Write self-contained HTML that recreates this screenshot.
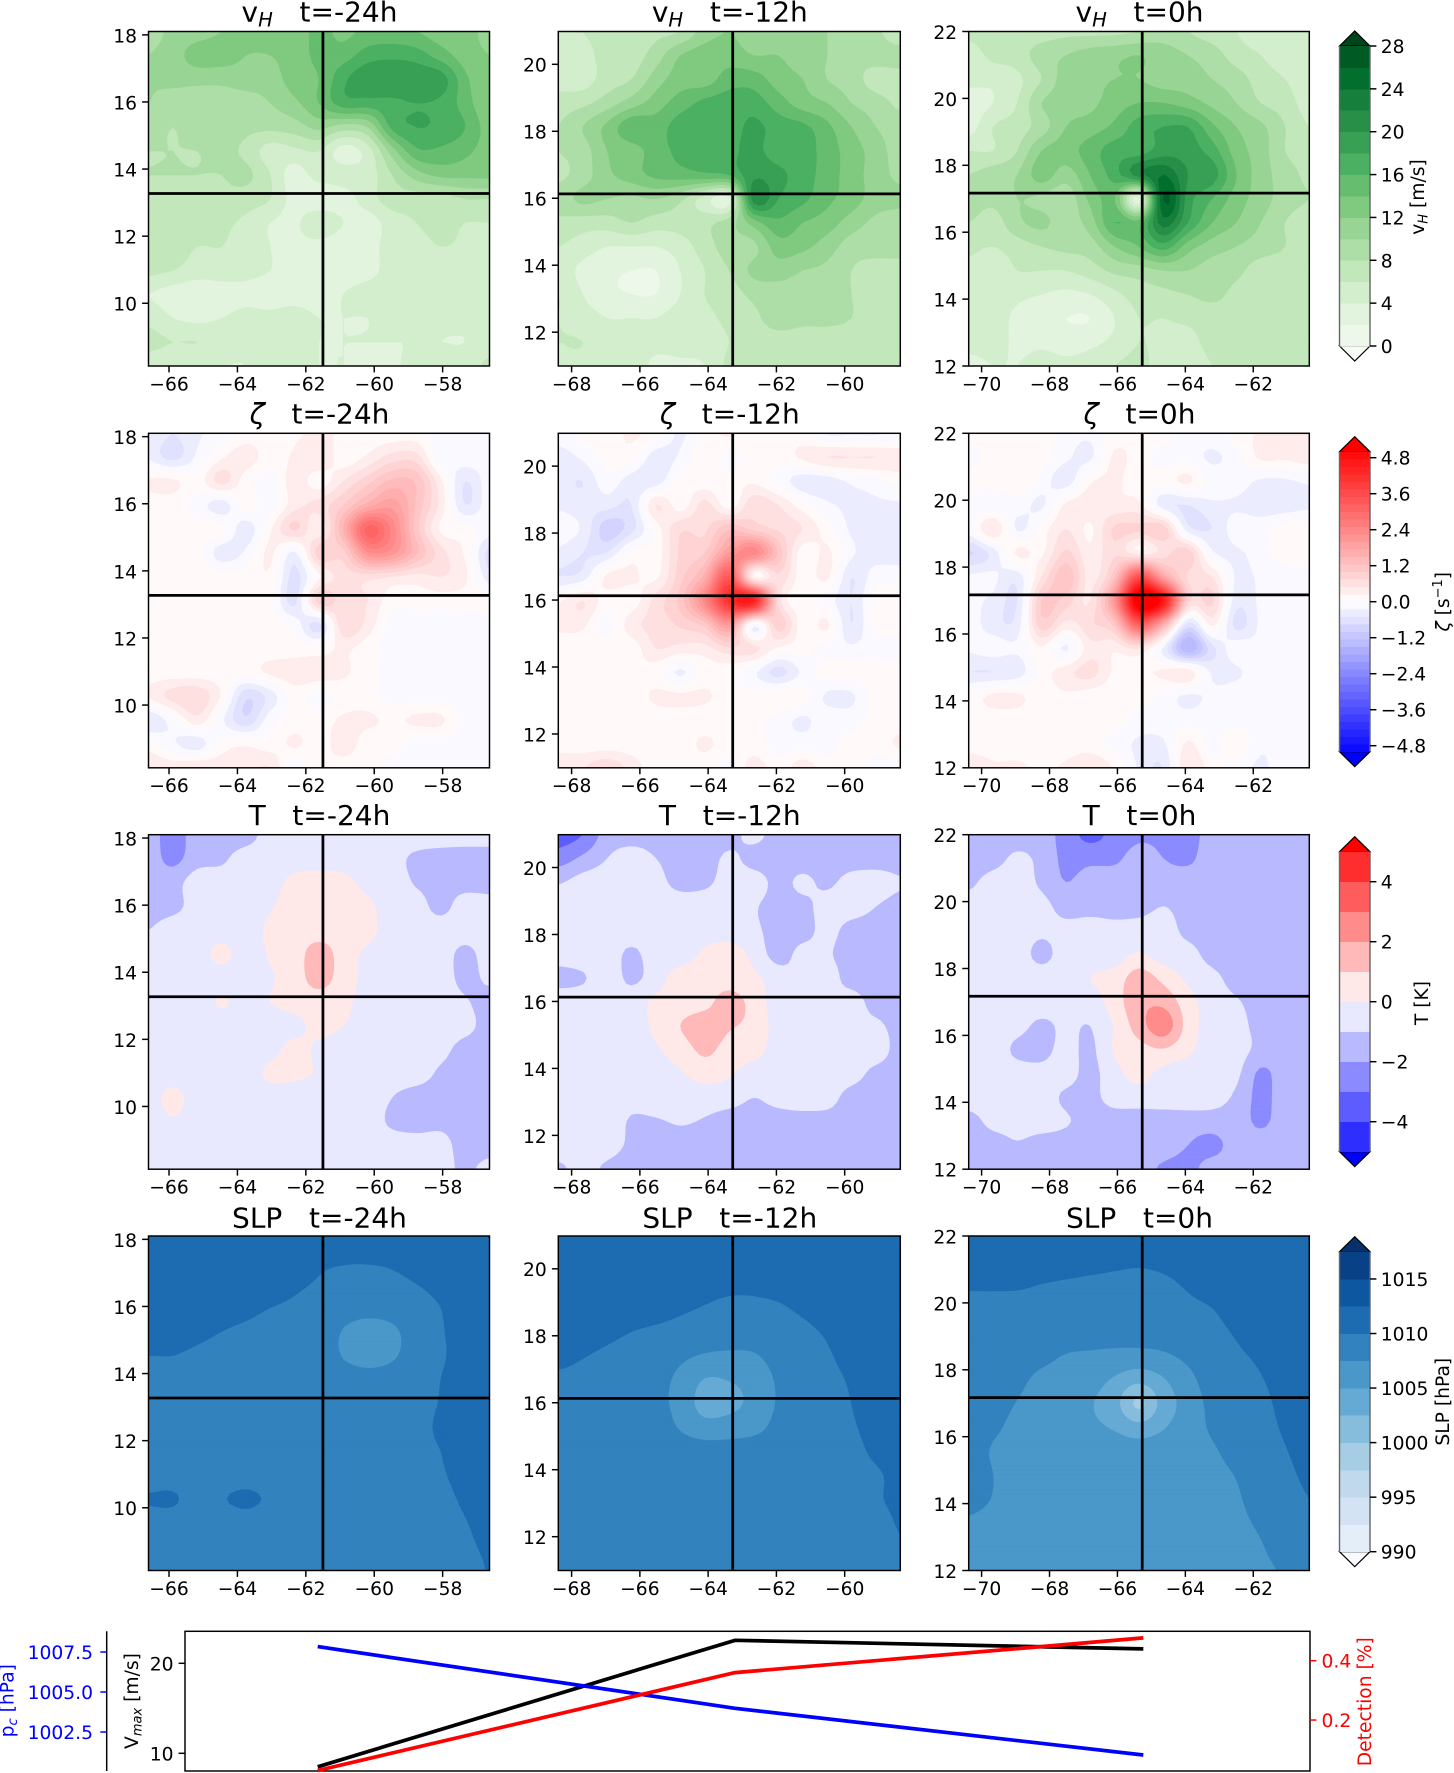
<!DOCTYPE html>
<html lang="en">
<head>
<meta charset="utf-8">
<title>Hurricane composite panels</title>
<style>
html,body{margin:0;padding:0;background:#fff}
svg{display:block}
text{font-family:"DejaVu Sans","Liberation Sans",sans-serif;fill:#000}
.title{font-size:28px;text-anchor:middle}
.lab{font-size:18.7px}
</style>
</head>
<body>
<svg id="fig" xmlns="http://www.w3.org/2000/svg" width="1454" height="1773" viewBox="0 0 1454 1773">
<g id="panels"></g>
<g id="bars"></g>
<g id="series"></g>
<g>
<text class="title" x="319.5" y="21.7">v<tspan font-style="italic" font-size="19.6" dy="5">H</tspan><tspan dy="-5">&#160;&#160;&#160;t=-24h</tspan></text>
<text class="title" x="729.8" y="21.7">v<tspan font-style="italic" font-size="19.6" dy="5">H</tspan><tspan dy="-5">&#160;&#160;&#160;t=-12h</tspan></text>
<text class="title" x="1139.5" y="21.7">v<tspan font-style="italic" font-size="19.6" dy="5">H</tspan><tspan dy="-5">&#160;&#160;&#160;t=0h</tspan></text>
<text class="title" x="319.5" y="423.5"><tspan font-style="italic">ζ</tspan>&#160;&#160;&#160;t=-24h</text>
<text class="title" x="729.8" y="423.5"><tspan font-style="italic">ζ</tspan>&#160;&#160;&#160;t=-12h</text>
<text class="title" x="1139.5" y="423.5"><tspan font-style="italic">ζ</tspan>&#160;&#160;&#160;t=0h</text>
<text class="title" x="319.5" y="825">T&#160;&#160;&#160;t=-24h</text>
<text class="title" x="729.8" y="825">T&#160;&#160;&#160;t=-12h</text>
<text class="title" x="1139.5" y="825">T&#160;&#160;&#160;t=0h</text>
<text class="title" x="319.5" y="1227.3">SLP&#160;&#160;&#160;t=-24h</text>
<text class="title" x="729.8" y="1227.3">SLP&#160;&#160;&#160;t=-12h</text>
<text class="title" x="1139.5" y="1227.3">SLP&#160;&#160;&#160;t=0h</text>
</g>
<g>
<text class="lab" text-anchor="middle" transform="translate(1424 197) rotate(-90)">v<tspan font-style="italic" font-size="13" dy="3.5">H</tspan><tspan dy="-3.5"> [m/s]</tspan></text>
<text class="lab" text-anchor="middle" transform="translate(1449 601.7) rotate(-90)"><tspan font-style="italic">ζ</tspan> [s<tspan font-size="13" dy="-7">−1</tspan><tspan dy="7">]</tspan></text>
<text class="lab" text-anchor="middle" transform="translate(1428 1003) rotate(-90)">T [K]</text>
<text class="lab" text-anchor="middle" transform="translate(1449 1401.7) rotate(-90)">SLP [hPa]</text>
<text class="lab" style="fill:#0000ff" text-anchor="middle" transform="translate(13.5 1700.7) rotate(-90)">p<tspan font-style="italic" font-size="13" dy="3.5">c</tspan><tspan dy="-3.5"> [hPa]</tspan></text>
<text class="lab" text-anchor="middle" transform="translate(138 1701) rotate(-90)">V<tspan font-style="italic" font-size="13" dy="3.5">max</tspan><tspan dy="-3.5"> [m/s]</tspan></text>
<text class="lab" style="fill:#ff0000" text-anchor="middle" transform="translate(1371 1701.7) rotate(-90)">Detection [%]</text>
</g>
</svg>
<script>
/* ---------- field data: rows north to south, columns west to east ---------- */
const vhM24=[
[9,10.5,11,12,12.5,13,13,14.5,13.5,14.5,14.5,14,13,13,11],
[10,11,13,13,12,12,13,14.5,15,17,17.5,17,15,13,12],
[10,10.5,10.5,10.5,11,11,13,14,17.5,19.5,19.5,19.5,19,14.5,12],
[10,9,9,9,9,10,11.5,14,17,17,17.5,18,17.5,15,12],
[9,8,9,9,8.5,8.5,9,10.5,9,10,16.5,18,17.5,16,13],
[8,8,8,8.5,7.5,5,5.5,6,3,5,11,15.5,15.5,14.5,13],
[8,8,8,8,8.5,6,3,5,5,5,8,11,12.5,12.5,12.5],
[7.5,7.5,7.5,7.5,7,6,3,2,3,5,7,7,7,8,8],
[7,7,7,6.5,5.5,4,3.5,6,4,3,5,6,7,6,6],
[7,7,6,6,5,4,3.5,3,2.5,3,5,5,6,5.5,5],
[6.5,6,5,5,4.5,4,3,3,3,3.5,4.5,4.5,4.5,4.5,4.5],
[4,3,2.5,3,3.5,3,3,2.8,4,4.5,4.5,4.5,4.5,4.5,4.5],
[5.5,4,3.5,4,4.5,4.5,5,4,4,4,4.5,4.5,4.5,4.5,4.5],
[6.5,6,6,5,4.5,4.5,5,4,4,4,4,4,4,4,5],
[5,4,4,4,4,5,5.5,4,4,3.5,3.5,5,5,5,6.5]];
const vhM12=[
[5,6,7,7,7.5,8,11,12,11,11,11,10,9,8.5,6],
[5,5,7,7,9,12,13,13,12,12,11,10,8.5,9,9],
[5,5,7,8,11,13,13,15,15,13,12,10,9,7,7],
[7,7.5,9,11,13,15,16.5,17,17,15,13,12,10,9,7.5],
[8,10,12.5,15.5,15,17,17,17,18.5,17,16.5,14.5,12,10,9],
[8,9,12,13,15,16.5,17,17.5,18.5,17,17,15,13,11,9],
[7.5,9,11.5,13,14.5,15,15.5,16,19.5,18.5,17,15,13,11,9.5],
[9,10.5,10,9.5,10,8.5,5,3.5,21,18,16.5,14.5,13,11,10.5],
[7.5,7,7,8,7,7,7.5,9,13,15.5,14,13,11,9.5,9],
[6,5,4,4,4,5,7,9,9.5,13,12.5,11,9,9,9],
[5,3.5,2.5,2,2,4,6,8,10.5,11,10,9.5,8,7,7],
[6,4,2.5,2,2,4,6,7,8.5,9,9,9,8,7,7],
[6,5,4,4,4,5,5.5,6.5,7.5,9,8.5,8.5,8,7,7],
[6,6,5,5,4.5,5,5,6,7,7,7,7,7,7,7],
[5.5,5.5,4.5,5,3.5,3.5,4,6.5,7,7,7,7,7,7,7]];
const vh0=[
[6.5,7,7,7,7.5,7.5,7.5,8,9,8,7,6,5,5,4.5],
[5,6.5,7,9,10,11,11.5,12,11,10,9,7,6,5,4.5],
[4.5,4.5,5.5,8,11,11.5,12,12,11,11,10,9,7,6,4.5],
[3,4,6,10,11,11.5,13,14,14,13,11.5,10,8,7,5],
[3,6,7,9,12,13,14.5,17,18,18,14.5,12,10.5,8,6],
[6,6,8,12,13,15,17,17,19,19,17,13,11,8,7],
[8,9,10,13,11,14,17,21,24,20,19,14,11,9,7.5],
[9,8.5,10,9.5,8.5,12.5,14,3,26,19,16,13,11,9,8],
[8,7,9.5,10.5,9,11,16,15,23,18,14,12,10,8,7],
[6.5,6,7,8,8.5,9,12,14,17,13,11,10,9,8,7],
[5.5,4.5,6,6,6,7,8.5,9,10,10,9,8.5,7,7,7],
[5,5,4.5,4,3.5,4,5.5,7,7.5,8,8.5,7.5,7,7,7],
[5.5,5,3.5,2.5,2,2,4,6,6,6.5,7,7,7,7,7],
[5,5,3.5,3.5,3,3.5,4.5,6,5.5,5,7,7,7,7,7],
[3,4,4,5,4.5,5,6,6.5,5,4,6,7,7,7,7]];
const zetaM24=[
[-.3,-.5,-.3,-.1,.1,.1,.2,.3,.2,.1,.1,.1,-.1,-.1,-.1],
[-.3,-.6,-.2,.2,.4,.1,.3,.5,.1,.3,.6,.6,-.2,-.1,-.1],
[.3,.3,.1,.6,.1,-.1,.4,.1,.5,.9,1.3,1.2,.3,-.5,-.1],
[.1,.1,-.1,-.4,.1,-.1,.4,.6,1,1.6,1.9,1.2,.4,-.5,-.1],
[.1,.1,.1,.1,-.4,.2,.8,.3,1.5,3.1,2.4,1.1,.2,.1,-.1],
[.1,.1,.1,-.4,-.2,.3,-.3,.9,.9,2.2,2.1,1.3,.6,.2,-.6],
[.1,.1,.1,.1,.1,.2,-.6,.2,.6,.6,.5,.4,.5,.3,-.4],
[.1,.1,.1,.1,.2,.1,-.6,.9,.6,.5,.1,.1,.1,.1,.1],
[.1,.1,.1,.1,.1,.1,-.1,-.6,.7,.4,-.1,-.1,-.1,-.1,-.1],
[.1,.1,.1,.1,.1,.1,.1,.1,.3,.1,-.1,-.1,-.1,-.1,-.1],
[.1,.1,.1,.1,.1,.3,.4,.4,.3,.1,-.1,-.1,-.1,-.1,-.1],
[.3,.6,.7,.2,-.7,-.4,.1,-.1,.1,.1,-.1,-.1,-.1,-.1,-.1],
[-.5,-.1,.4,-.2,-.7,-.1,.1,.1,.3,.3,.2,.3,.3,-.1,-.1],
[.1,-.2,-.4,.1,.2,.1,.3,.1,.4,.1,.1,-.1,-.1,-.1,-.1],
[.5,.4,.5,.4,.4,.5,-.2,.2,.1,.1,-.1,-.1,-.1,-.1,-.1]];
const zetaM12=[
[-.1,.1,.1,.3,.1,-.3,.1,.3,.1,.1,.1,-.3,-.3,-.3,-.1],
[-.4,-.2,.1,.1,-.4,-.2,.2,-.1,.1,.1,.3,.5,.5,.5,.4],
[-.4,-.5,-.1,-.4,-.4,.1,.1,.1,.2,-.1,-.4,-.4,-.2,-.1,.1],
[-.3,-.4,-.4,-.5,.5,.1,.6,.1,.7,.5,.1,-.2,-.3,-.3,-.3],
[-.1,-.3,-.9,-.6,.1,.7,.7,1.2,.9,.7,.5,.1,-.3,-.4,-.4],
[-.3,-.5,-.5,.1,.1,.8,1,2,2.4,1.2,.1,.3,-.2,-.4,-.4],
[-.5,-.4,.3,.3,.2,.9,1.6,3.3,.2,.7,.1,.3,-.5,-.1,-.1],
[.2,.5,.1,.1,.6,1.1,2.4,4.2,4.5,.7,.1,-.1,-.5,.1,.1],
[.3,.3,-.1,.4,.6,.8,1.1,2,-.2,.9,.1,.3,-.5,.1,.1],
[.1,.1,.1,.1,.5,.4,.4,.7,.6,.2,.1,-.1,-.2,-.1,-.1],
[.1,.1,.1,.2,.1,-.3,.1,.1,-.2,-.6,-.2,.1,.1,.1,.1],
[.1,.1,.1,.1,.3,.3,.3,.1,.1,.2,.1,-.3,-.3,.1,.1],
[.1,.1,.1,.1,.1,.1,.1,.1,.1,-.1,-.3,-.1,-.1,.1,.1],
[.1,.1,.1,.1,.1,.1,.3,.1,.1,-.1,-.1,-.1,.1,.1,.3],
[.5,.5,.7,.4,.1,.1,.1,-.1,.4,.1,.4,.1,.1,-.1,-.1]];
const zeta0=[
[.1,.1,.1,.1,-.1,-.2,.1,.2,.1,-.1,-.1,.1,.3,.4,.3],
[-.1,.1,.1,.1,-.2,-.3,.3,.1,-.1,-.1,-.3,-.1,.3,.3,.4],
[.1,.1,.2,-.1,-.4,.2,.3,.1,.1,.3,-.1,-.1,-.3,-.3,-.2],
[-.1,-.2,-.1,-.3,.3,.4,.3,.3,-.4,-.5,-.3,-.3,-.4,-.4,-.3],
[-.1,.5,-.3,.1,.5,.2,.8,.8,.9,-.4,-.5,-.1,-.1,.1,.1],
[-.8,-.4,.3,.2,.8,.3,.7,.3,.6,.9,-.2,-.3,-.1,.1,.1],
[-.2,-.2,-.4,.5,1.2,.4,1.2,3.5,1.8,.7,.5,-.3,-.2,-.1,-.1],
[-.2,-.3,-.5,1,.9,.5,2.1,5.5,4.7,.9,.8,-.4,-.2,-.1,-.2],
[-.1,-.4,-.4,.9,.4,.7,1.1,3.2,1.6,-.6,.3,-.6,-.2,-.1,-.1],
[-.2,-.1,-.2,.2,-.3,.4,.3,.5,-.3,-1.5,-.6,-.1,-.2,-.1,-.2],
[-.5,-.5,-.4,.1,.4,.6,.2,.2,.3,.4,-.3,-.3,-.1,-.1,-.1],
[.1,.3,.3,.1,.2,.1,.1,.1,-.1,-.3,-.2,-.1,-.1,-.1,-.1],
[.1,.1,.1,.1,.1,.1,.1,-.1,-.1,-.1,-.1,-.1,-.1,-.1,-.1],
[.1,.1,.1,.1,.1,.1,-.1,-.3,-.3,.3,-.1,.2,-.2,-.1,-.1],
[.5,.3,.3,.2,.3,.5,.2,-.3,-.5,.5,.1,-.1,-.3,-.1,-.1]];
const tM24=[
[-1.5,-2.5,-1.5,-1.5,-1.5,-.5,-.5,-.5,-.5,-.5,-.5,-.5,-.5,-.5,-.5],
[-1.5,-2.3,-1.4,-1.2,-.5,-.5,-.5,-.5,-.5,-.5,-.7,-1.2,-1.4,-1.5,-1.5],
[-1.4,-1.4,-.5,-.5,-.5,-.4,.3,.5,.3,-.3,-.5,-1.1,-1.3,-1.4,-1.4],
[-1.4,-1.3,-.6,-.5,-.5,-.1,.5,.5,.5,.2,-.5,-.6,-1.3,-.5,-.6],
[-1,-.5,-.5,-.5,-.5,.2,.5,.5,.5,.3,-.5,-.5,-.5,-.5,-.5],
[-.5,-.5,-.5,.3,-.5,.1,.5,1.5,.5,-.2,-.5,-.5,-.5,-1.3,-.5],
[-.6,-.5,-.5,-.5,-.5,-.1,.5,1.4,.5,-.3,-.5,-.5,-.5,-1.3,-.8],
[-.5,-.5,-.5,.1,-.4,0,.4,.5,.3,-.5,-.5,-.5,-.5,-.9,-1.4],
[-.5,-.5,-.5,-.5,-.5,-.5,-.3,.3,0,-.5,-.5,-.5,-.5,-.7,-1.4],
[-.5,-.5,-.5,-.5,-.5,-.3,.3,-.2,-.5,-.5,-.5,-.5,-.7,-1.4,-1.4],
[-.5,-.5,-.5,-.5,-.5,.2,.2,-.1,-.5,-.5,-.5,-.5,-1.2,-1.5,-1.5],
[-.5,.3,-.5,-.5,-.5,-.5,-.5,-.5,-.5,-.5,-1,-1.5,-1.5,-1.5,-1.5],
[-.5,-.1,-.5,-.5,-.5,-.5,-.5,-.5,-.5,-.5,-1.2,-1.5,-1.3,-1.5,-1.5],
[-.5,-.5,-.5,-.5,-.5,-.5,-.5,-.5,-.5,-.5,-.5,-.5,-.6,-1.5,-1.5],
[-.5,-.5,-.5,-.5,-.5,-.5,-.5,-.5,-.5,-.5,-.5,-.5,-.6,-1.2,-.6]];
const tM12=[
[-3.5,-3,-1.6,-1.5,-1.5,-1.5,-1.5,-1.4,-.7,-1.5,-1.5,-1.5,-1.5,-1.5,-1.5],
[-2.5,-1.8,-1,-.5,-1,-1.4,-1.5,-.8,-1.4,-1.5,-1.5,-1.5,-1.5,-1.5,-1.5],
[-1.1,-.6,-.5,-.5,-.7,-1.3,-1.2,-.6,-.5,-1.3,-.8,-1.2,-.6,-.5,-.9],
[-.5,-.5,-.5,-.5,-.5,-.5,-.5,-.5,-.9,-1.4,-1.3,-.6,-.5,-1,-1.4],
[-.5,-.5,-.5,-.5,-.5,-.5,-.5,-.5,-.8,-1.4,-1.4,-.7,-1.4,-1.5,-1.5],
[-.6,-.5,-.5,-1.2,-.5,-.5,.2,.5,-.3,-1.4,-.7,-.9,-1.4,-1.5,-1.5],
[-1.3,-1.1,-.5,-1.2,-.5,.5,.5,.5,.2,-.5,-.9,-.6,-1.4,-1.5,-1.5],
[-.5,-.5,-.5,-.5,.2,.5,.7,1.4,.6,-.5,-.5,-1,-.6,-1.4,-1.5],
[-.5,-.5,-.5,-.5,.2,1,1.5,1.1,.7,-.4,-.5,-.6,-.8,-.8,-1.4],
[-.5,-.5,-.5,-.5,-.1,.5,1.2,.6,.4,-.5,-.5,-.5,-.6,-.5,-1.4],
[-.5,-.5,-.5,-.5,-.5,-.1,.4,.1,-.5,-.5,-.5,-.5,-.6,-1.3,-1.5],
[-.5,-.5,-.5,-.7,-.5,-.5,-.5,-.6,-1,-.7,-.5,-.6,-1.4,-1.5,-1.5],
[-.5,-.5,-.5,-1.1,-1.1,-.9,-1.1,-1.4,-1.4,-1.4,-1.4,-1.4,-1.4,-1.5,-1.5],
[-.5,-.5,-.6,-1.2,-1.5,-1.5,-1.5,-1.5,-1.5,-1.5,-1.5,-1.5,-1.5,-1.5,-1.5],
[-1.2,-.7,-1.2,-1.5,-1.5,-1.5,-1.5,-1.5,-1.5,-1.5,-1.5,-1.5,-1.5,-1.5,-1.5]];
const t0=[
[-1.5,-1.5,-1.5,-1.5,-2.5,-3.3,-2.7,-2.2,-2.2,-2.3,-1.7,-1.5,-1.5,-1.5,-1.5],
[-1.5,-1.4,-.8,-1.3,-2.3,-2.3,-2.2,-1.6,-2,-2.2,-1.5,-1.5,-1.5,-1.5,-1.5],
[-1.2,-.6,-.5,-1.2,-2,-1.5,-1.5,-1.5,-1.5,-1.5,-1.5,-1.5,-1.5,-1.5,-1.5],
[-.6,-.5,-.5,-.7,-1.4,-1.4,-1.4,-1.4,-1,-1.4,-1.5,-1.5,-1.5,-1.5,-1.5],
[-.5,-.5,-.5,-.8,-.7,-.5,-.7,-.5,-.5,-1.3,-1.5,-1.5,-1.5,-1.5,-1.5],
[-.5,-.5,-.5,-1.3,-.5,-.5,-.5,.1,-.5,-.6,-1.4,-1.5,-1.5,-1.5,-1.5],
[-.5,-.5,-.5,-.5,-.5,0,.4,1.5,.7,-.2,-.7,-1.4,-1.5,-1.5,-1.5],
[-.5,-.5,-.5,-.5,-.5,-.5,.5,1.7,1.7,.4,-.5,-.9,-1.4,-1.5,-1.5],
[-.5,-.5,-.7,-1.2,-.8,-1,.1,1.5,2.6,.6,-.5,-.7,-1.3,-1.5,-1.5],
[-.5,-.5,-1.2,-1.3,-.7,-1.2,.1,.6,.9,.2,-.5,-.6,-1.3,-1.6,-1.5],
[-.5,-.5,-.6,-.7,-.6,-1.3,-.3,.3,-.3,-.5,-.5,-.8,-2.2,-1.5,-1.5],
[-.5,-.5,-.5,-.5,-1.2,-1.3,-.6,-.5,-.5,-.5,-.6,-1.2,-2.3,-1.5,-1.5],
[-1.4,-.7,-.6,-.5,-.9,-1.4,-1.5,-1.5,-1.5,-1.5,-1.5,-1.5,-2.2,-1.5,-1.5],
[-1.5,-1.5,-1.1,-1.5,-1.5,-1.5,-1.5,-1.5,-1.5,-2,-2.3,-1.6,-1.5,-1.5,-1.5],
[-1.5,-1.5,-1.5,-1.5,-1.5,-1.5,-1.5,-1.5,-2.2,-2.3,-1.6,-1.5,-1.5,-1.5,-1.5]];
const slpM24=[
[1011.5,1011.5,1011.5,1011.5,1011.5,1011.5,1011.5,1011.5,1011.5,1011.5,1011.5,1011.5,1011.5,1011.5,1012.6],
[1011.3,1011.3,1011.3,1011.3,1011.3,1011.3,1011.2,1010.4,1010.2,1010.2,1010.4,1011,1011.3,1011.3,1011.3],
[1011,1011,1011,1011,1011,1011,1010.4,1009.8,1009.4,1009.2,1009.4,1010,1010.7,1011,1011],
[1011,1011,1011,1010.8,1010.5,1010,1009.6,1009,1008.3,1008,1008.3,1009,1010,1011,1011],
[1011,1010.9,1010.5,1010,1009.6,1009.2,1008.9,1008.5,1007.4,1007,1007.2,1008.4,1009.8,1010.8,1011],
[1010,1010,1009.6,1009.2,1009,1008.8,1008.6,1008.4,1007.4,1007,1007.3,1008.3,1009.7,1010.8,1011],
[1009.2,1009.1,1009,1008.9,1008.8,1008.7,1008.6,1008.5,1008.2,1008,1008.2,1008.9,1010,1011,1011],
[1009,1009,1008.9,1008.8,1008.8,1008.8,1008.8,1008.7,1008.7,1008.7,1008.8,1009.3,1010.1,1011,1011],
[1008.8,1008.8,1008.8,1008.8,1008.8,1008.8,1008.8,1008.8,1008.8,1008.8,1008.9,1009.4,1010.3,1011,1011],
[1008.7,1008.7,1008.7,1008.7,1008.7,1008.7,1008.7,1008.7,1008.7,1008.7,1008.9,1009.4,1010,1010.8,1011],
[1008.8,1008.8,1008.8,1008.8,1008.8,1008.8,1008.8,1008.8,1008.8,1008.8,1008.8,1009.2,1009.8,1010.6,1011],
[1010.2,1010.3,1008.9,1009.8,1010.5,1009.6,1008.8,1008.7,1008.7,1008.7,1008.7,1008.9,1009.4,1010.3,1010.8],
[1009,1008.9,1008.8,1008.8,1008.9,1008.8,1008.7,1008.7,1008.7,1008.7,1008.7,1008.7,1009,1009.9,1010.6],
[1008.8,1008.8,1008.8,1008.7,1008.7,1008.7,1008.7,1008.7,1008.7,1008.7,1008.7,1008.7,1008.8,1009.6,1010.3],
[1008.7,1008.7,1008.7,1008.7,1008.7,1008.7,1008.7,1008.7,1008.7,1008.7,1008.7,1008.7,1008.7,1009.2,1010.1]];
const slpM12=[
[1011.4,1011.4,1011.4,1011.4,1011.4,1011.4,1011.4,1011.4,1011.4,1011.4,1011.4,1011.4,1011.4,1011.4,1012.6],
[1011.2,1011.2,1011.2,1011.2,1011.2,1011.2,1011.2,1011.2,1011.2,1011.2,1011.2,1011.2,1011.2,1011.2,1011.2],
[1011,1011,1011,1011,1011,1011,1010.6,1010.4,1010.4,1010.6,1010.9,1011,1011,1011,1011],
[1011,1011,1011,1010.9,1010.7,1010.3,1009.9,1009.6,1009.6,1009.8,1010.3,1010.8,1011,1011,1011],
[1011,1010.8,1010.4,1010,1009.7,1009.3,1008.9,1008.7,1008.7,1009,1009.6,1010.2,1010.9,1011,1011],
[1010.6,1010.1,1009.7,1009.4,1009,1008,1007.3,1007.1,1007.3,1008.4,1009.2,1009.8,1010.6,1011,1011],
[1009.6,1009.4,1009.2,1009,1008.3,1006.9,1004.9,1005.1,1006,1007.8,1008.9,1009.5,1010.2,1011,1011],
[1009.2,1009.1,1009,1008.8,1008,1006.8,1003.9,1004.3,1005.7,1007.7,1008.7,1009.3,1010,1010.9,1011],
[1009,1009,1008.9,1008.7,1008.4,1007.3,1006,1006.2,1006.8,1008.1,1008.8,1009.2,1009.8,1010.6,1011],
[1008.9,1008.9,1008.9,1008.8,1008.7,1008.6,1008.5,1008.5,1008.6,1008.7,1008.8,1009,1009.5,1010.3,1010.8],
[1008.9,1008.9,1008.8,1008.8,1008.8,1008.8,1008.7,1008.7,1008.7,1008.7,1008.8,1008.9,1009.3,1009.8,1010.4],
[1008.8,1008.8,1008.8,1008.8,1008.8,1008.8,1008.7,1008.7,1008.7,1008.7,1008.7,1008.8,1009.1,1009.8,1010.3],
[1008.8,1008.8,1008.8,1008.8,1008.8,1008.7,1008.7,1008.7,1008.7,1008.7,1008.7,1008.8,1009,1009.5,1010.1],
[1008.8,1008.8,1008.8,1008.8,1008.7,1008.7,1008.7,1008.7,1008.7,1008.7,1008.7,1008.7,1008.8,1009.3,1009.9],
[1008.8,1008.8,1008.8,1008.7,1008.7,1008.7,1008.7,1008.7,1008.7,1008.7,1008.7,1008.7,1008.7,1009.1,1009.6]];
const slp0=[
[1011.5,1011.5,1011.5,1011.5,1011.5,1011.5,1011.5,1011.5,1011.5,1011.5,1011.5,1011.5,1011.5,1011.5,1011.5],
[1011,1011,1011,1011,1011,1010.8,1010.5,1010.3,1010.5,1010.8,1011,1011,1011,1011,1011],
[1010.2,1010.2,1010.2,1010,1009.8,1009.6,1009.5,1009.5,1009.7,1010.2,1010.8,1011,1011,1011,1011],
[1009.6,1009.6,1009.5,1009.4,1009.3,1009.2,1009.1,1009.1,1009.3,1009.6,1010,1010.8,1011,1011,1011],
[1009.3,1009.2,1009,1008.9,1008.7,1008.5,1008.3,1008.2,1008.4,1008.8,1009.4,1010.2,1010.8,1011,1011],
[1009.1,1009,1008.6,1008.1,1007.4,1007.2,1007,1006.9,1007.2,1008,1008.9,1009.7,1010.3,1010.9,1011],
[1009,1008.7,1008,1007,1006.6,1006,1004.7,1003.2,1004.8,1006.8,1008.5,1009.2,1009.9,1010.6,1011],
[1008.9,1008.4,1007.4,1006.6,1006.4,1005.2,1003.3,999.5,1003.5,1006,1008.1,1008.9,1009.6,1010.4,1011],
[1008.7,1007.9,1006.9,1006.5,1006.3,1005.5,1004.7,1003.3,1004.8,1006.2,1007.8,1008.7,1009.4,1010.2,1010.9],
[1008.6,1007.3,1006.6,1006.5,1006.4,1006.3,1006.3,1006.3,1006.3,1006.4,1007.2,1008.3,1009.1,1009.9,1010.6],
[1008.5,1007.5,1006.5,1006.4,1006.4,1006.4,1006.4,1006.4,1006.4,1006.4,1006.8,1007.6,1008.8,1009.6,1010.3],
[1008.2,1007.4,1006.4,1006.4,1006.4,1006.4,1006.4,1006.4,1006.4,1006.4,1006.5,1007.2,1008.5,1009.3,1010],
[1007.2,1006.8,1006.5,1006.4,1006.4,1006.4,1006.4,1006.4,1006.4,1006.4,1006.4,1006.9,1007.9,1009.1,1009.8],
[1006.7,1006.5,1006.4,1006.4,1006.4,1006.4,1006.4,1006.4,1006.4,1006.4,1006.4,1006.6,1007.3,1008.8,1009.6],
[1006.6,1006.4,1006.4,1006.4,1006.4,1006.4,1006.4,1006.4,1006.4,1006.4,1006.4,1006.5,1006.9,1007.9,1009.4]];

/* ---------- colourbar levels and tick labels ---------- */
const vhLevels=[0,2,4,6,8,10,12,14,16,18,20,22,24,26,28];
const vhTicks=[0,4,8,12,16,20,24,28];
const zetaLevels=[-5,-4.75,-4.5,-4.25,-4,-3.75,-3.5,-3.25,-3,-2.75,-2.5,-2.25,-2,-1.75,-1.5,-1.25,-1,-.75,-.5,-.25,0,.25,.5,.75,1,1.25,1.5,1.75,2,2.25,2.5,2.75,3,3.25,3.5,3.75,4,4.25,4.5,4.75,5];
const zetaTicks=[-4.8,-3.6,-2.4,-1.2,0,1.2,2.4,3.6,4.8];
const tLevels=[-5,-4,-3,-2,-1,0,1,2,3,4,5];
const tTicks=[-4,-2,0,2,4];
const slpLevels=[990,992.5,995,997.5,1000,1002.5,1005,1007.5,1010,1012.5,1015,1017.5];
const slpTicks=[990,995,1000,1005,1010,1015];

/* ---------- map-axis ticks and storm-centre markers ---------- */
const lonTicks1=[-66,-64,-62,-60,-58];
const lonTicks2=[-68,-66,-64,-62,-60];
const lonTicks3=[-70,-68,-66,-64,-62];
const latTicks1=[10,12,14,16,18];
const latTicks2=[12,14,16,18,20];
const latTicks3=[12,14,16,18,20,22];
const centerLon=[-61.5,-63.28,-65.27];
const centerLat=[13.27,16.13,17.17];

/* ---------- time series ---------- */
const hours=[-24,-11.87,0];
const vmaxSeries=[8.5,22.55,21.6];
const pressureSeries=[1007.84,1003.98,1001.06];
const detectionSeries=[.03,.36,.477];
const vmaxTicks=[10,20];
const pressureTicks=[1002.5,1005,1007.5];
const detectionTicks=[.2,.4];

/* ---------- helpers ---------- */
const NS='http://www.w3.org/2000/svg';
function mk(tag,attrs,parent){
  const e=document.createElementNS(NS,tag);
  for(const k in attrs)e.setAttribute(k,attrs[k]);
  parent.appendChild(e);
  return e;
}
const fmtNum=(v,d)=>(v<0?'\u2212':'')+Math.abs(v).toFixed(d);
const GREENS=['#f7fcf5','#e5f5e0','#c7e9c0','#a1d99b','#74c476','#41ab5d','#238b45','#006d2c','#00441b'];
const BLUES=['#f7fbff','#deebf7','#c6dbef','#9ecae1','#6baed6','#4292c6','#2171b5','#08519c','#08306b'];
const BWR=['#0000ff','#ffffff','#ff0000'];
function cmap(stops,t){
  const p=Math.min(Math.max(t,0),1)*(stops.length-1);
  const i=Math.min(Math.floor(p),stops.length-2),f=p-i;
  const c=s=>[1,3,5].map(k=>parseInt(s.substr(k,2),16));
  const a=c(stops[i]),b=c(stops[i+1]);
  return 'rgb('+a.map((v,k)=>Math.round(v+(b[k]-v)*f)).join(',')+')';
}
function cr(p0,p1,p2,p3,f){
  return .5*(2*p1+(p2-p0)*f+(2*p0-5*p1+4*p2-p3)*f*f+(3*p1-p0-3*p2+p3)*f*f*f);
}
function upsample(g,fac){
  const ny=g.length,nx=g[0].length;
  const at=(j,i)=>g[Math.max(0,Math.min(ny-1,j))][Math.max(0,Math.min(nx-1,i))];
  const out=[];
  for(let J=0;J<=(ny-1)*fac;J++){
    const j=Math.min(Math.floor(J/fac),ny-2),fy=J/fac-j,row=[];
    for(let I=0;I<=(nx-1)*fac;I++){
      const i=Math.min(Math.floor(I/fac),nx-2),fx=I/fac-i,col=[];
      for(let m=-1;m<=2;m++)col.push(cr(at(j+m,i-1),at(j+m,i),at(j+m,i+1),at(j+m,i+2),fx));
      row.push(cr(col[0],col[1],col[2],col[3],fy));
    }
    out.push(row);
  }
  return out;
}
function regionPath(g,lv,X,Y){
  let d='';
  const ny=g.length-1,nx=g[0].length-1;
  for(let j=0;j<ny;j++){
    const a=g[j],b=g[j+1];
    let i=0;
    while(i<nx){
      const v=[a[i],a[i+1],b[i+1],b[i]];
      const n=v.filter(q=>q>=lv).length;
      if(n===4){
        const s=i;
        while(i<nx&&a[i]>=lv&&a[i+1]>=lv&&b[i]>=lv&&b[i+1]>=lv)i++;
        d+='M'+X[s]+' '+Y[j]+'H'+X[i]+'V'+Y[j+1]+'H'+X[s]+'Z';
        continue;
      }
      if(n>0){
        const px=[X[i],X[i+1],X[i+1],X[i]],py=[Y[j],Y[j],Y[j+1],Y[j+1]];
        let pts=[];
        for(let k=0;k<4;k++){
          const m=(k+1)%4;
          if(v[k]>=lv)pts.push(px[k].toFixed(1)+' '+py[k].toFixed(1));
          if((v[k]>=lv)!==(v[m]>=lv)){
            const f=(lv-v[k])/(v[m]-v[k]);
            pts.push((px[k]+(px[m]-px[k])*f).toFixed(1)+' '+(py[k]+(py[m]-py[k])*f).toFixed(1));
          }
        }
        d+='M'+pts.join('L')+'Z';
      }
      i++;
    }
  }
  return d;
}

/* ---------- map panels ---------- */
const rowsCfg=[
 {key:'vh',stops:GREENS,shift:0,levels:vhLevels,fields:[vhM24,vhM12,vh0],top:31.5},
 {key:'zeta',stops:BWR,shift:0,levels:zetaLevels,fields:[zetaM24,zetaM12,zeta0],top:433.3},
 {key:'t',stops:BWR,shift:0,levels:tLevels,fields:[tM24,tM12,t0],top:834.7},
 {key:'slp',stops:BLUES,shift:.018,levels:slpLevels,fields:[slpM24,slpM12,slp0],top:1236}
];
const colsCfg=[
 {left:148.5,right:489.5,x0:-66.6,x1:-56.63,y0:8.13,y1:18.1,lon:lonTicks1,lat:latTicks1,tag:'24h'},
 {left:558.3,right:900.3,x0:-68.39,x1:-58.37,y0:10.99,y1:20.98,lon:lonTicks2,lat:latTicks2,tag:'12h'},
 {left:968.7,right:1309.3,x0:-70.38,x1:-60.35,y0:12,y1:22,lon:lonTicks3,lat:latTicks3,tag:'0h'}
];
const PANEL_H=334.5,TICK=6.4,FAC=5;
const panelsG=document.getElementById('panels');
const defs=mk('defs',{},panelsG);
rowsCfg.forEach((R,ri)=>{
  colsCfg.forEach((C,ci)=>{
    const xs=lon=>C.left+(lon-C.x0)/(C.x1-C.x0)*(C.right-C.left);
    const ys=lat=>R.top+(C.y1-lat)/(C.y1-C.y0)*PANEL_H;
    const field=R.fields[ci];
    const fine=upsample(field,FAC);
    const nxF=fine[0].length,nyF=fine.length;
    const X=[],Y=[];
    for(let i=0;i<nxF;i++)X.push(+xs(C.x0+(C.x1-C.x0)*i/(nxF-1)).toFixed(2));
    for(let j=0;j<nyF;j++)Y.push(+ys(C.y1-(C.y1-C.y0)*j/(nyF-1)).toFixed(2));
    const cid='clip'+ri+ci;
    const cp=mk('clipPath',{id:cid},defs);
    mk('rect',{x:C.left,y:R.top,width:C.right-C.left,height:PANEL_H},cp);
    const g=mk('g',{},panelsG);
    
    
    const body=mk('g',{'clip-path':'url(#'+cid+')'},g);
    const n=R.levels.length;
    const base=mk('rect',{x:C.left,y:R.top,width:C.right-C.left,height:PANEL_H,fill:cmap(R.stops,0)},body);
    
    
    R.levels.forEach((lv,k)=>{
      const d=regionPath(fine,lv,X,Y);
      if(!d)return;
      const col=cmap(R.stops,(k+1)/n+R.shift);
      const p=mk('path',{d:d,fill:col,stroke:col,'stroke-width':.5},body);
      
      
    });
    const v=mk('line',{x1:xs(centerLon[ci]),x2:xs(centerLon[ci]),y1:R.top,y2:R.top+PANEL_H,stroke:'#000','stroke-width':2.75},g);
    
    
    const h=mk('line',{x1:C.left,x2:C.right,y1:ys(centerLat[ci]),y2:ys(centerLat[ci]),stroke:'#000','stroke-width':2.75},g);
    
    
    const fr=mk('rect',{x:C.left,y:R.top,width:C.right-C.left,height:PANEL_H,fill:'none',stroke:'#000','stroke-width':1.47},g);
    
    
    C.lon.forEach(t=>{
      const x=xs(t),y=R.top+PANEL_H;
      const l=mk('line',{x1:x,x2:x,y1:y,y2:y+TICK,stroke:'#000','stroke-width':1.47},g);
      
      
      const tx=mk('text',{x:x,y:y+24.4,'font-size':18.7,'text-anchor':'middle'},g);
      
      
      tx.textContent=fmtNum(t,0);
    });
    C.lat.forEach(t=>{
      const y=ys(t);
      const l=mk('line',{x1:C.left-TICK,x2:C.left,y1:y,y2:y,stroke:'#000','stroke-width':1.47},g);
      
      
      const tx=mk('text',{x:C.left-11.5,y:y+7.4,'font-size':18.7,'text-anchor':'end'},g);
      
      
      tx.textContent=fmtNum(t,0);
    });
  });
});

/* ---------- colourbars ---------- */
const barsCfg=[
 {key:'vh',stops:GREENS,shift:0,levels:vhLevels,ticks:vhTicks,dec:0,top:46},
 {key:'zeta',stops:BWR,shift:0,levels:zetaLevels,ticks:zetaTicks,dec:1,top:451.7},
 {key:'t',stops:BWR,shift:0,levels:tLevels,ticks:tTicks,dec:0,top:851.7},
 {key:'slp',stops:BLUES,shift:.018,levels:slpLevels,ticks:slpTicks,dec:0,top:1251.7}
];
const barsG=document.getElementById('bars');
const BX0=1339.5,BX1=1370,BLEN=300,TIP=15;
barsCfg.forEach(B=>{
  const L=B.levels,n=L.length;
  const ys=v=>B.top+BLEN*(L[n-1]-v)/(L[n-1]-L[0]);
  const g=mk('g',{},barsG);
  
  
  const mid=(BX0+BX1)/2,bot=B.top+BLEN;
  const up=mk('polygon',{points:BX0+','+B.top+' '+mid+','+(B.top-TIP)+' '+BX1+','+B.top,fill:cmap(B.stops,1),stroke:'#000','stroke-width':1.2},g);
  
  
  const dn=mk('polygon',{points:BX0+','+bot+' '+mid+','+(bot+TIP)+' '+BX1+','+bot,fill:cmap(B.stops,0),stroke:'#000','stroke-width':1.2},g);
  
  
  for(let k=0;k<n-1;k++){
    const y1=ys(L[k+1]),y0=ys(L[k]);
    const r=mk('rect',{x:BX0,y:y1,width:BX1-BX0,height:y0-y1+.4,fill:cmap(B.stops,(k+1)/n+B.shift),'shape-rendering':'crispEdges'},g);
    
    
  }
  [BX0,BX1].forEach(x=>{
    const s=mk('line',{x1:x,x2:x,y1:B.top,y2:bot,stroke:'#666','stroke-width':1.4},g);
    
    
  });
  B.ticks.forEach(t=>{
    const y=ys(t);
    const l=mk('line',{x1:BX1,x2:BX1+TICK,y1:y,y2:y,stroke:'#000','stroke-width':1.47},g);
    
    
    const tx=mk('text',{x:BX1+10.8,y:y+7,'font-size':18.7},g);
    
    
    tx.textContent=fmtNum(t,B.dec);
  });
});

/* ---------- bottom time series ---------- */
const sG=document.getElementById('series');
const TL=185,TR=1310,TT=1631.3,TB=1771;
const tx=h=>1143.3+h*34.4;
const yV=v=>1753.3-(v-10)*9;
const yP=p=>1692-(p-1005)*16;
const yD=d=>1660.7-(d-.4)*296.7;
const tsFrame=mk('rect',{x:TL,y:TT,width:TR-TL,height:TB-TT,fill:'none',stroke:'#000','stroke-width':1.47},sG);


const pSpine=mk('line',{x1:106.7,x2:106.7,y1:TT,y2:TB,stroke:'#000','stroke-width':1.47},sG);


const ptsOf=(vals,sc)=>vals.map((v,i)=>tx(hours[i]).toFixed(1)+','+sc(v).toFixed(1)).join(' ');
const lineV=mk('polyline',{points:ptsOf(vmaxSeries,yV),fill:'none',stroke:'#000','stroke-width':3.7},sG);


const lineP=mk('polyline',{points:ptsOf(pressureSeries,yP),fill:'none',stroke:'#0000ff','stroke-width':3.7},sG);


const lineD=mk('polyline',{points:ptsOf(detectionSeries,yD),fill:'none',stroke:'#ff0000','stroke-width':3.7},sG);


vmaxTicks.forEach(t=>{
  const l=mk('line',{x1:TL-TICK,x2:TL,y1:yV(t),y2:yV(t),stroke:'#000','stroke-width':1.47},sG);
  
  
  const e=mk('text',{x:TL-11.5,y:yV(t)+7,'font-size':18.7,'text-anchor':'end'},sG);
  
  
  e.textContent=fmtNum(t,0);
});
pressureTicks.forEach(t=>{
  const l=mk('line',{x1:106.7-TICK,x2:106.7,y1:yP(t),y2:yP(t),stroke:'#0000ff','stroke-width':1.47},sG);
  
  
  const e=mk('text',{x:106.7-13.7,y:yP(t)+7,'font-size':18.7,'text-anchor':'end',style:'fill:#0000ff'},sG);
  
  
  e.textContent=fmtNum(t,1);
});
detectionTicks.forEach(t=>{
  const l=mk('line',{x1:TR,x2:TR+TICK,y1:yD(t),y2:yD(t),stroke:'#ff0000','stroke-width':1.47},sG);
  
  
  const e=mk('text',{x:TR+11.5,y:yD(t)+7,'font-size':18.7,style:'fill:#ff0000'},sG);
  
  
  e.textContent=fmtNum(t,1);
});
</script>
</body>
</html>
